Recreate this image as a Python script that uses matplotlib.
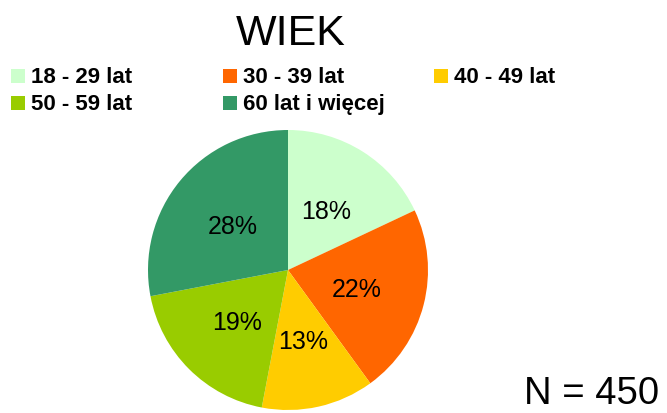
import matplotlib.pyplot as plt
from matplotlib.patches import Rectangle

# age groups and share of respondents (%)
labels = ["18 - 29 lat", "30 - 39 lat", "40 - 49 lat", "50 - 59 lat", "60 lat i więcej"]
shares = [18, 22, 13, 19, 28]
colors = ["#CCFFCC", "#FF6600", "#FFCC00", "#99CC00", "#339966"]

plt.rcParams['font.family'] = ['Liberation Sans', 'DejaVu Sans']

W, H = 667, 413
fig = plt.figure(figsize=(W / 100, H / 100), dpi=100)

# pie: centre (288, 270) px, radius 140 px
ax = fig.add_axes([(288 - 140) / W, (H - 410) / H, 280 / W, 280 / H])
wedges, texts, autotexts = ax.pie(shares, colors=colors, startangle=90, counterclock=False,
                                  autopct="%d%%", pctdistance=0.51, radius=1.0,
                                  textprops={"fontsize": 18, "color": "black"})
for t in autotexts:
    t.set_va("center_baseline")
ax.set_xlim(-1, 1)
ax.set_ylim(-1, 1)
ax.set_aspect("equal")

fig.text(291 / W, (H - 45) / H, "WIEK", ha="center", va="baseline", fontsize=31)
fig.text(659 / W, (H - 404) / H, "N = 450", ha="right", va="baseline", fontsize=27.5)

# legend, 3 per row, filled row by row
col_x = [11, 223, 434]
row_y = [83, 110]
for i, (lab, c) in enumerate(zip(labels, colors)):
    x = col_x[i % 3]
    y = row_y[i // 3]
    fig.patches.append(Rectangle((x / W, (H - y) / H), 14 / W, 14 / H,
                                 transform=fig.transFigure, facecolor=c, edgecolor="none"))
    fig.text((x + 20) / W, (H - y) / H, lab, ha="left", va="baseline",
             fontsize=16, fontweight="bold")

fig.savefig("out.png", dpi=100)
